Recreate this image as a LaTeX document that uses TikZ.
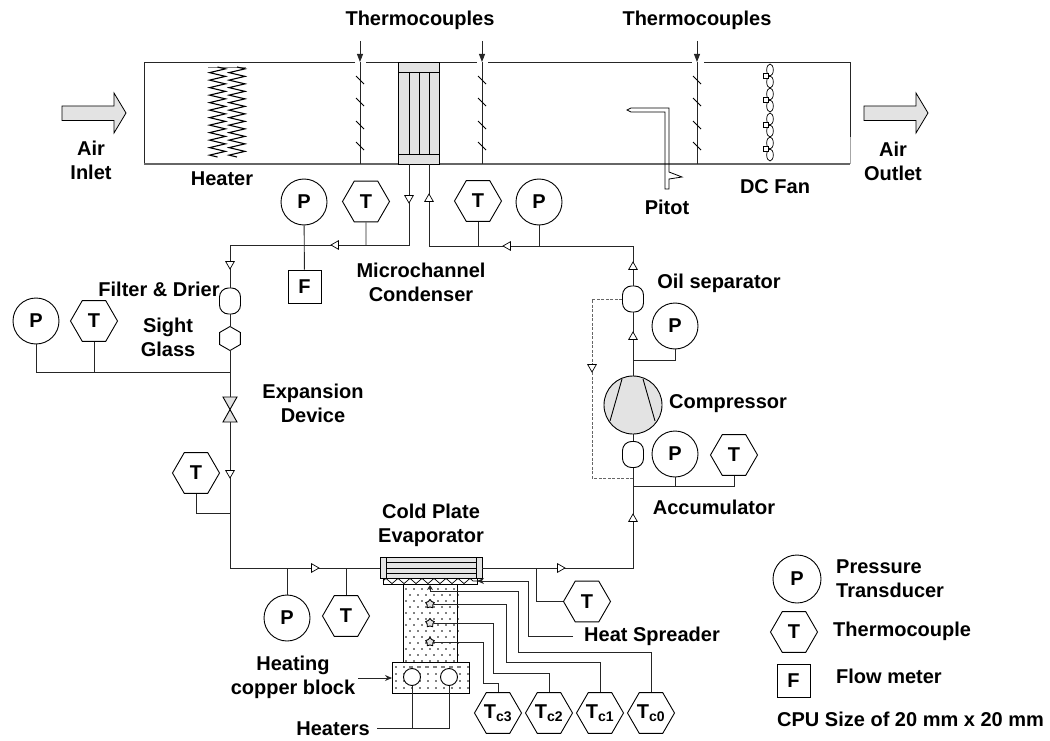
\documentclass[tikz,border=0pt]{standalone}
\usepackage{fontspec}
\setmainfont{Liberation Sans}
\usetikzlibrary{arrows.meta,shapes.geometric,decorations.pathmorphing}
\definecolor{partgray}{HTML}{E3E3E3}
\definecolor{linegray}{HTML}{666666}
\tikzset{
    pipe/.style={draw,line width=0.9pt,color=black!85},
    lbl/.style={font=\bfseries\fontsize{20}{24}\selectfont,align=center,inner sep=0pt,text=black},
    gauge/.style={lbl,circle,draw,line width=0.9pt,fill=white,minimum size=46pt},
    thermo/.style={lbl,regular polygon,regular polygon sides=6,draw,line width=0.9pt,fill=white,minimum size=47pt},
    flowbox/.style={lbl,rectangle,draw,line width=0.9pt,fill=white,minimum size=33pt},
    capsule/.style={rectangle,rounded corners=9pt,draw,line width=0.9pt,fill=white,minimum width=21pt,minimum height=26pt,inner sep=0pt},
    flowtip/.style={regular polygon,regular polygon sides=3,draw,line width=0.7pt,fill=white,minimum size=10pt,inner sep=0pt},
    tipup/.style={flowtip},
    tipdown/.style={flowtip,shape border rotate=180},
    tipleft/.style={flowtip,shape border rotate=90},
    tipright/.style={flowtip,shape border rotate=270},
    airarrow/.style={draw,line width=0.8pt,fill=partgray,line join=miter},
    probestar/.style={star,star points=5,draw,line width=0.9pt,fill=partgray,minimum size=9pt,inner sep=0pt},
    coil/.style={line width=1.1pt,decorate,decoration={zigzag,segment length=7.5pt,amplitude=8pt}},
}

\begin{document}
\begin{tikzpicture}[x=1pt,y=-1pt]
    \useasboundingbox (0,0) rectangle (1050,741);

    % duct
    \draw[pipe] (355,62) -- (144,62) -- (144,164);
    \draw[pipe] (850,137) -- (850,62) -- (704,62);
    \draw[pipe] (366,62) -- (477,62);
    \draw[pipe] (488,62) -- (692,62);
    \draw[line width=1.2pt,linegray] (144,164) -- (850,164);
    \draw[line width=0.9pt,black!35] (850,137) -- (850,164);
    \draw[airarrow] (62,106) -- (114,106) -- (114,93) -- (126,113) -- (114,133) -- (114,120.5) -- (62,120.5) -- cycle;
    \draw[airarrow] (864,106) -- (916,106) -- (916,93) -- (928,113) -- (916,133) -- (916,120.5) -- (864,120.5) -- cycle;

    % thermocouple rakes
    \foreach \x in {360,482,697} {
        \draw[pipe,-{Triangle[width=6pt,length=8pt]}] (\x,41) -- (\x,62);
        \draw[pipe] (\x,62) -- (\x,164);
        \foreach \y in {80,102,125,146}
            \draw[line width=0.8pt] (\x-4,\y-4) -- (\x+4,\y+4);
    }

    % heater
    \draw[line width=0.5pt,gray] (208,67) -- (246,67);
    \draw[coil] (217.5,67) -- (217.5,157);
    \draw[coil] (237,67) -- (237,157);

    % pitot
    \draw[line width=0.8pt] (627,110) -- (631,108) -- (669,108) -- (669,172) -- (682,177) -- (669,179) -- (669,189) -- (665,189) -- (665,112) -- (631,112) -- cycle;

    % fan
    \foreach \y in {76,100,125,149} {
        \draw[line width=0.7pt] (770,\y-6) ellipse (3.3 and 6);
        \draw[line width=0.7pt] (770,\y+6) ellipse (3.3 and 6);
        \draw[line width=0.7pt,fill=white] (763,\y-2.5) rectangle (768,\y+2.5);
    }

    % condenser
    \node[rectangle,draw,line width=0.9pt,fill=partgray,minimum width=41pt,minimum height=102pt,inner sep=0pt] (cond) at (418.5,113) {};
    \draw[line width=0.9pt] (398,72) -- (439,72);
    \draw[line width=0.9pt] (398,154) -- (439,154);
    \foreach \x in {409,419,429}
        \draw[line width=0.9pt] (\x,72) -- (\x,154);

    \coordinate (condOut) at (409,164);
    \coordinate (condIn) at (429,164);
    \coordinate (topL) at (230,245);
    \coordinate (topR) at (633,246);
    \coordinate (botL) at (230,568);
    \coordinate (botR) at (633,568);
    \coordinate (valveTop) at (230,397);
    \coordinate (valveBot) at (230,422);
    \coordinate (jSight) at (230,372);
    \coordinate (jLow) at (230,513);
    \coordinate (jOil) at (633,360);
    \coordinate (jAcc) at (633,486);
    \coordinate (jDash) at (633,478);
    \coordinate (dashBot) at (592,478);

    % loop parts
    \node[capsule] (filter) at (230,301) {};
    \node[regular polygon,regular polygon sides=6,shape border rotate=90,draw,line width=0.9pt,fill=white,minimum size=24pt,inner sep=0pt] (sight) at (230,338.5) {};
    \node[capsule] (oilsep) at (633,299) {};
    \node[capsule] (accum) at (633,454.5) {};
    \node[circle,draw,line width=0.9pt,fill=partgray,minimum size=58pt,inner sep=0pt] (comp) at (633,405) {};
    \draw[line width=0.9pt] (622,379) -- (610,421);
    \draw[line width=0.9pt] (643,379) -- (655,421);
    \draw[line width=0.9pt,fill=partgray] (223,397) -- (237,397) -- (223,422) -- (237,422) -- cycle;

    % evaporator stack
    \foreach \x in {0,1,...,6} \foreach \y in {0,1,...,6} {
        \fill (406+8*\x,589+12*\y) circle (0.8);
        \fill (410+8*\x,595+12*\y) circle (0.8);
    }
    \draw[line width=0.9pt] (403,584) -- (403,662);
    \draw[line width=0.9pt] (457,584) -- (457,662);
    \node[rectangle,draw,line width=0.9pt,minimum width=77pt,minimum height=31pt,inner sep=0pt] (block) at (430.5,677.5) {};
    \foreach \x in {0,1,...,9} \foreach \y in {0,1,2,3} {
        \fill (396+8*\x,667+7*\y) circle (0.8);
    }
    \node[circle,draw,line width=0.9pt,fill=white,minimum size=17pt,inner sep=0pt] (heatA) at (412,677) {};
    \node[circle,draw,line width=0.9pt,fill=white,minimum size=17pt,inner sep=0pt] (heatB) at (449,677) {};
    \node[rectangle,draw,line width=0.9pt,fill=white,minimum width=94pt,minimum height=6pt,inner sep=0pt] (spreader) at (430,581) {};
    \draw[line width=0.7pt,decorate,decoration={zigzag,segment length=12pt,amplitude=2.6pt}] (383,581) -- (477,581);
    \node[rectangle,draw,line width=0.9pt,fill=partgray,minimum width=102pt,minimum height=21pt,inner sep=0pt] (evap) at (431,567.5) {};
    \draw[line width=0.8pt] (386,557) -- (386,578);
    \draw[line width=0.8pt] (476,557) -- (476,578);
    \foreach \y in {562,568,573}
        \draw[line width=0.8pt] (386,\y) -- (476,\y);

    % instruments
    \node[gauge] (pCondOut) at (304,202) {P};
    \node[thermo] (tCondOut) at (366,201.5) {T};
    \node[thermo] (tCondIn) at (478,201) {T};
    \node[gauge] (pCondIn) at (539,202) {P};
    \node[flowbox] (flow) at (304.5,286.5) {F};
    \node[gauge] (pSight) at (36,321) {P};
    \node[thermo] (tSight) at (94,321) {T};
    \node[thermo] (tLow) at (196,473) {T};
    \node[gauge] (pEvap) at (287,618) {P};
    \node[thermo] (tEvap) at (346,616) {T};
    \node[thermo] (tEvapOut) at (587,601.5) {T};
    \node[gauge] (pOil) at (675,326) {P};
    \node[gauge] (pAcc) at (675,454) {P};
    \node[thermo] (tAcc) at (734,455) {T};
    \node[thermo] (tcThree) at (498,713) {T\textsubscript{c3}};
    \node[thermo] (tcTwo) at (549,713) {T\textsubscript{c2}};
    \node[thermo] (tcOne) at (600,713) {T\textsubscript{c1}};
    \node[thermo] (tcZero) at (651,713) {T\textsubscript{c0}};

    % probes in the block
    \coordinate (probeZero) at (430,591);
    \node[probestar] (probeOne) at (430,604) {};
    \node[probestar] (probeTwo) at (430,623) {};
    \node[probestar] (probeThree) at (430,642) {};

    % refrigerant loop
    \draw[pipe] (condOut) |- (topL) -- (filter);
    \draw[pipe] (filter) -- (sight);
    \draw[pipe] (sight) -- (valveTop);
    \draw[pipe] (valveBot) -- (botL) -- (evap.west |- botL);
    \draw[pipe] (evap.east |- botR) -- (botR) -- (accum);
    \draw[pipe] (accum) -- (comp);
    \draw[pipe] (comp) -- (oilsep);
    \draw[pipe] (oilsep) -- (topR) -| (condIn);
    \draw[line width=0.9pt,linegray,dash pattern=on 3pt off 1.5pt] (oilsep.west) -| (dashBot) -- (jDash);

    % instrument taps
    \draw[pipe] (pCondOut) -- (flow);
    \draw[pipe] (tCondOut) -- (tCondOut |- topL);
    \draw[pipe] (tCondIn) -- (tCondIn |- topR);
    \draw[pipe] (pCondIn) -- (pCondIn |- topR);
    \draw[pipe] (pSight.south) |- (jSight);
    \draw[pipe] (tSight) -- (tSight |- jSight);
    \draw[pipe] (tLow.south) |- (jLow);
    \draw[pipe] (pEvap) -- (pEvap |- botL);
    \draw[pipe] (tEvap) -- (tEvap |- botL);
    \coordinate (tapOut) at (536,568);
    \draw[pipe] (tapOut) |- (tEvapOut.west);
    \draw[pipe] (pOil.south) |- (jOil);
    \draw[pipe] (pAcc.south) |- (jAcc);
    \draw[pipe] (tAcc.south) |- (jAcc);

    % probe wires
    \coordinate (bendZero) at (518,652);
    \coordinate (bendOne) at (506,662);
    \coordinate (bendTwo) at (493,673);
    \coordinate (bendThree) at (483,683);
    \draw[pipe,-{Stealth[length=5pt,width=6pt]}] (bendZero |- probeZero) -- (probeZero) -- (430,585);
    \draw[pipe] (probeZero) -| (bendZero) -| (tcZero.north);
    \draw[pipe] (probeOne) -| (bendOne) -| (tcOne.north);
    \draw[pipe] (probeTwo) -| (bendTwo) -| (tcTwo.north);
    \draw[pipe] (probeThree) -| (bendThree) -| (tcThree.north);

    % labels
    \node[lbl] (lblTcA) at (420,20) {Thermocouples};
    \node[lbl] (lblTcB) at (697,20) {Thermocouples};
    \node[lbl] (lblInlet) at (91,160) {Air\\Inlet};
    \node[lbl] (lblHeater) at (222,179) {Heater};
    \node[lbl] (lblOutlet) at (893,161) {Air\\Outlet};
    \node[lbl] (lblPitot) at (667,207) {Pitot};
    \node[lbl] (lblFan) at (775,187) {DC Fan};
    \node[lbl] (lblCond) at (421,282) {Microchannel\\Condenser};
    \node[lbl] (lblFilter) at (159,289) {Filter \& Drier};
    \node[lbl] (lblSight) at (168,337) {Sight\\Glass};
    \node[lbl] (lblExp) at (313,403) {Expansion\\Device};
    \node[lbl] (lblOil) at (719,283) {Oil separator};
    \node[lbl] (lblComp) at (728,404) {Compressor};
    \node[lbl] (lblAcc) at (714,507) {Accumulator};
    \node[lbl] (lblEvap) at (431,525) {Cold Plate\\Evaporator};
    \node[lbl,anchor=west] (lblSpread) at (584,636) {Heat Spreader};
    \node[lbl] (lblBlock) at (293,677) {Heating\\copper block};
    \node[lbl,anchor=east] (lblHeaters) at (370,729) {Heaters};

    % label leaders
    \coordinate (spreadEnd) at (573,636);
    \coordinate (spreadBend) at (528,581);
    \coordinate (spreadIn) at (477,581);
    \draw[pipe,-{Stealth[length=7pt,width=6pt]}] (spreadEnd) -| (spreadBend) -- (spreadIn);
    \coordinate (blockEnd) at (358,678);
    \coordinate (blockIn) at (392,678);
    \draw[pipe,-{Stealth[length=7pt,width=6pt]}] (blockEnd) -- (blockIn);
    \coordinate (heatersEnd) at (377,728);
    \draw[pipe] (heatA.south) |- (heatersEnd);
    \draw[pipe] (heatB.south) |- (heatersEnd);

    % flow direction
    \node[tipdown] (tipA) at (409,198) {};
    \node[tipleft] (tipB) at (336,245) {};
    \node[tipdown] (tipC) at (230,264) {};
    \node[tipdown] (tipD) at (230,473) {};
    \node[tipright] (tipE) at (314,568) {};
    \node[tipright] (tipF) at (560,568) {};
    \node[tipup] (tipG) at (633,519) {};
    \node[tipup] (tipH) at (633,337) {};
    \node[tipup] (tipI) at (633,267) {};
    \node[tipleft] (tipJ) at (508,246) {};
    \node[tipup] (tipK) at (429,199) {};
    \node[tipdown] (tipL) at (592,367) {};

    % legend
    \node[gauge,minimum size=48pt] (legP) at (797,579) {P};
    \node[thermo] (legT) at (794,632) {T};
    \node[flowbox] (legF) at (793.5,680.5) {F};
    \node[lbl,anchor=west,align=left] (legPText) at (836,579) {Pressure\\Transducer};
    \node[lbl,anchor=west] (legTText) at (833,631) {Thermocouple};
    \node[lbl,anchor=west] (legFText) at (836,676) {Flow meter};
    \node[lbl,anchor=west] (legCpu) at (777,719) {CPU Size of 20 mm x 20 mm};
\end{tikzpicture}
\end{document}
